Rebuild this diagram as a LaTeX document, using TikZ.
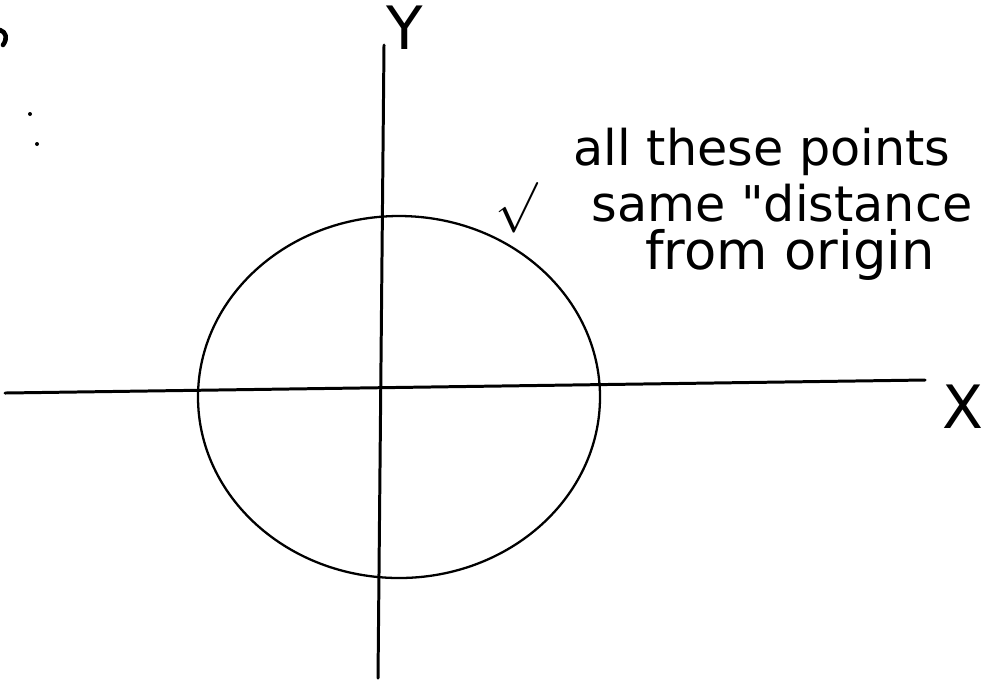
\documentclass[tikz,border=0pt]{standalone}
\usepackage{fontspec}
\setmainfont{DejaVu Sans}
\begin{document}
\begin{tikzpicture}[x=0.01cm,y=-0.01cm,
  pen/.style={draw=black,line width=0.85pt,line cap=round,line join=round},
  hand/.style={font=\fontsize{14}{16}\selectfont,inner sep=0pt,align=center}]
\useasboundingbox (0,0) rectangle (986,681);
% axes
\coordinate (xl) at (5,393);
\coordinate (xr) at (925,380);
\coordinate (yt) at (384,45);
\coordinate (yb) at (378,678);
\draw[pen] (xl) -- (xr);
\draw[pen] (yt) -- (yb);
% circle
\coordinate (o) at (399,397);
\draw[pen,line width=0.65pt] (o) ellipse [x radius=201, y radius=181];
% labels
\node[hand,font=\fontsize{17}{20}\selectfont] (ylab) at (405,28) {Y};
\node[hand,font=\fontsize{17}{20}\selectfont] (xlab) at (963,407) {X};
\node[hand] (t1) at (762,152) {all these points};
\node[hand] (t2) at (782,203) {same \textquotedbl distance};
\node[hand,font=\fontsize{15}{17}\selectfont] (t3) at (790,255) {from origin};
\node[hand,font=\fontsize{15}{18}\selectfont] (chk) at (517,208) {$\surd$};
% top-left stray marks
\draw[pen,line width=1.3pt] (0,30) .. controls (6,32) and (8,38) .. (3,45);
\fill (30,114) circle (2);
\fill (37,144) circle (2);
\end{tikzpicture}
\end{document}
